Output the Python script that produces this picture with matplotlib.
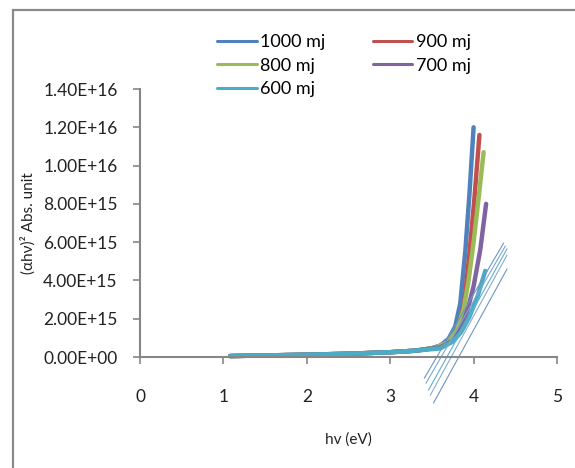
import matplotlib
matplotlib.use("Agg")
import matplotlib.pyplot as plt
from matplotlib.patches import Rectangle
from matplotlib.ticker import FormatStrFormatter

plt.rcParams['font.family'] = ['Lato', 'DejaVu Sans']

series_labels = ["1000 mj", "900 mj", "800 mj", "700 mj", "600 mj"]
series_colors = ["#4F81BD", "#C0504D", "#9BBB59", "#8064A2", "#4BACC6"]

x_1000 = [1.08, 1.5, 2.0, 2.5, 3.0, 3.3, 3.5, 3.6, 3.7, 3.78, 3.84, 3.9, 3.95, 4.0]
y_1000 = [0.05, 0.08, 0.12, 0.17, 0.25, 0.33, 0.45, 0.6, 0.95, 1.6, 2.8, 5.5, 8.5, 12.0]

x_900 = [1.08, 1.5, 2.0, 2.5, 3.0, 3.3, 3.5, 3.65, 3.75, 3.83, 3.89, 3.95, 4.01, 4.07]
y_900 = [0.05, 0.08, 0.12, 0.17, 0.25, 0.33, 0.45, 0.65, 1.0, 1.7, 2.9, 5.4, 8.3, 11.6]

x_800 = [1.08, 1.5, 2.0, 2.5, 3.0, 3.3, 3.55, 3.7, 3.8, 3.88, 3.94, 4.0, 4.06, 4.12]
y_800 = [0.05, 0.08, 0.12, 0.17, 0.25, 0.33, 0.5, 0.8, 1.4, 2.5, 4.0, 6.0, 8.3, 10.7]

x_700 = [1.08, 1.5, 2.0, 2.5, 3.0, 3.3, 3.6, 3.75, 3.85, 3.93, 4.0, 4.08, 4.15]
y_700 = [0.05, 0.08, 0.12, 0.17, 0.25, 0.33, 0.5, 0.85, 1.5, 2.5, 3.7, 5.6, 8.0]

x_600 = [1.08, 1.5, 2.0, 2.5, 3.0, 3.3, 3.6, 3.75, 3.85, 3.95, 4.05, 4.14]
y_600 = [0.05, 0.08, 0.12, 0.17, 0.25, 0.33, 0.45, 0.8, 1.3, 2.1, 3.2, 4.5]

# tangent (extrapolation) lines: start/end x and y (x1e15)
tan_x0 = [3.41, 3.43, 3.46, 3.48, 3.52]
tan_y0 = [-1.10, -1.36, -1.72, -2.00, -2.40]
tan_x1 = [4.36, 4.38, 4.40, 4.40, 4.40]
tan_y1 = [5.95, 5.79, 5.64, 5.32, 4.59]
tan_colors = ["#6E95C4", "#7FA6CF", "#5FB0CC", "#8AAAD0", "#6E95C4"]

y_ticks = [0, 2e15, 4e15, 6e15, 8e15, 1e16, 1.2e16, 1.4e16]
x_ticks = [0, 1, 2, 3, 4, 5]

W, H = 575, 468
fig = plt.figure(figsize=(W / 100, H / 100), dpi=100)
fig.patches.append(Rectangle((13 / W, -0.1), 1.2, (H - 10) / H + 0.1,
                             transform=fig.transFigure, fill=False,
                             edgecolor="#8a8a8a", linewidth=1.6, zorder=0))

ax = fig.add_axes([140 / W, (H - 357) / H, (557 - 140) / W, (357 - 89) / H])
ax.patch.set_alpha(0)

xs = [x_1000, x_900, x_800, x_700, x_600]
ys = [y_1000, y_900, y_800, y_700, y_600]
handles = []
for xv, yv, c, lab in zip(xs, ys, series_colors, series_labels):
    ln, = ax.plot(xv, [v * 1e15 for v in yv], color=c, lw=3.2, label=lab,
                  solid_capstyle="round", solid_joinstyle="round", clip_on=False)
    handles.append(ln)

for a0, b0, a1, b1, c in zip(tan_x0, tan_y0, tan_x1, tan_y1, tan_colors):
    ax.plot([a0, a1], [b0 * 1e15, b1 * 1e15], color=c, lw=0.8, clip_on=False)

ax.set_xlim(0, 5)
ax.set_ylim(0, 1.4e16)
ax.set_xticks(x_ticks)
ax.set_yticks(y_ticks)
ax.yaxis.set_major_formatter(FormatStrFormatter('%.2E'))
for s in ["top", "right"]:
    ax.spines[s].set_visible(False)
for s in ["left", "bottom"]:
    ax.spines[s].set_color("#868686")
    ax.spines[s].set_linewidth(1.5)
ax.tick_params(axis="y", direction="out", length=5, width=1.2, color="#868686",
               labelsize=12.5, pad=11, labelcolor="#222222")
ax.tick_params(axis="x", direction="out", length=5, width=1.2, color="#868686",
               labelsize=12.5, pad=18, labelcolor="#222222")

fig.text(348 / W, 1 - 440 / H, "hv (eV)", ha="center", va="center",
         fontsize=11, color="#222222")
fig.text(28 / W, 1 - 223 / H, "(αhν)² Abs. unit", ha="center", va="center",
         rotation=90, fontsize=11, color="#222222")

# row-major legend order: (1000, 900), (800, 700), (600)
order = [0, 2, 4, 1, 3]
leg = fig.legend([handles[i] for i in order], [series_labels[i] for i in order],
                 loc="upper left", bbox_to_anchor=(217 / W, 1 - 34 / H), ncol=2,
                 frameon=False, fontsize=13, handlelength=2.2, handletextpad=0.2,
                 columnspacing=2.6, labelspacing=0.42, borderpad=0, borderaxespad=0)
for lh in leg.legend_handles:
    lh.set_linewidth(2.2)

fig.savefig("out.png", dpi=100)
